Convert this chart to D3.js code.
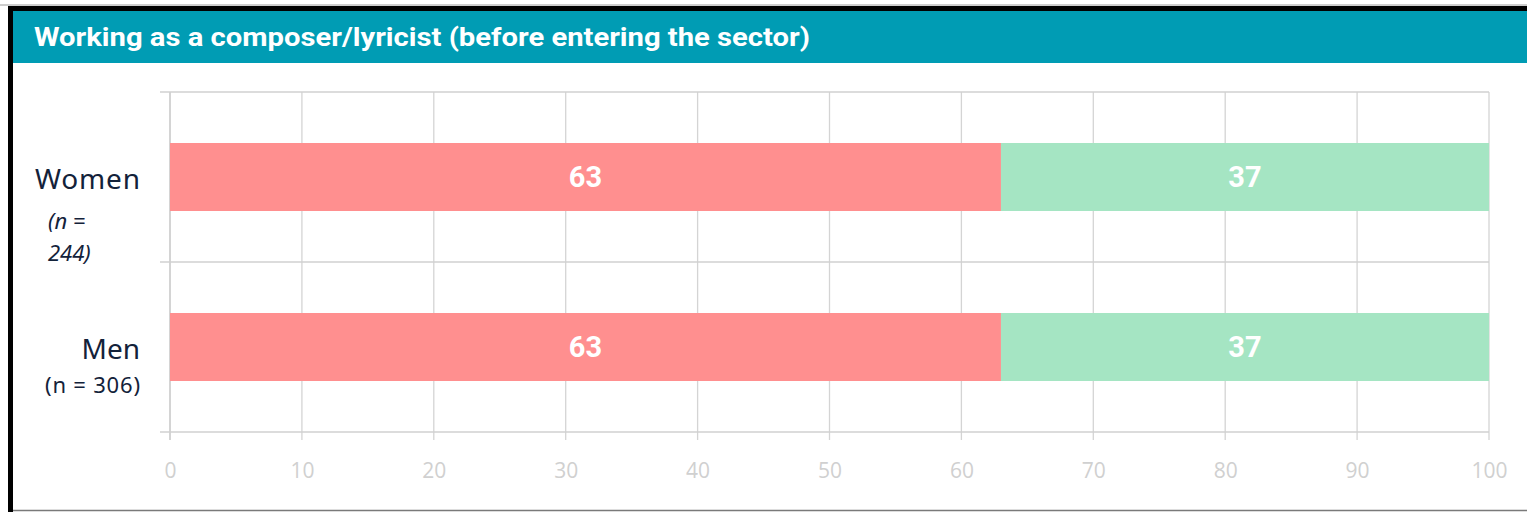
<!DOCTYPE html>
<html><head><meta charset="utf-8">
<script src="https://cdn.jsdelivr.net/npm/d3@7"></script>
<style>html,body{margin:0;padding:0;background:#fff;overflow:hidden}</style>
</head><body>
<svg id="chart" width="1527" height="512"></svg>
<script>
const title = "Working as a composer/lyricist (before entering the sector)";
const categories = ["Women", "Men"];
const seriesNames = ["Yes", "No"];
const yesValues = [63, 63];
const noValues = [37, 37];
const tickValues = [0,10,20,30,40,50,60,70,80,90,100];
const colors = ["#FF8F8F", "#A5E5C3"];

const svg = d3.select("#chart");
const W = 1527, H = 512;

// frame
svg.append("rect").attr("x",0).attr("y",0).attr("width",W).attr("height",H).attr("fill","#fff");
svg.append("line").attr("x1",0).attr("x2",W).attr("y1",5).attr("y2",5).attr("stroke","#9a9a9a").attr("stroke-width",1);
svg.append("rect").attr("x",8).attr("y",6).attr("width",W-8).attr("height",5).attr("fill","#000");
svg.append("rect").attr("x",8).attr("y",6).attr("width",5).attr("height",H-6).attr("fill","#000");
svg.append("line").attr("x1",13).attr("x2",W).attr("y1",510.5).attr("y2",510.5).attr("stroke","#7a7a7a").attr("stroke-width",1.5);
svg.append("rect").attr("x",13).attr("y",11).attr("width",W-13).attr("height",52).attr("fill","#009CB4");
svg.append("text").attr("x",34).attr("y",46).attr("fill","#fff")
  .attr("font-family","Roboto, sans-serif").attr("font-weight","bold").attr("font-size",25)
  .attr("textLength",776).attr("lengthAdjust","spacingAndGlyphs")
  .text(title);

const x = d3.scaleLinear().domain([0,100]).range([170,1489]);
const y = d3.scaleBand().domain(categories).range([92,432]).paddingInner(0.6).paddingOuter(0.3);
const yb = d3.scaleBand().domain(categories).range([92,432]);

// vertical grid
const grid = svg.append("g");
grid.selectAll("line.v").data(tickValues).join("line")
  .attr("x1",d=>x(d)).attr("x2",d=>x(d)).attr("y1",92).attr("y2",440)
  .attr("stroke","#d4d4d4").attr("stroke-width",d=>d===0?2:1.3);
// horizontal lines at band edges
const edges = [92].concat(categories.map(c=>yb(c)+yb.bandwidth()));
grid.selectAll("line.h").data(edges).join("line")
  .attr("x1",160).attr("x2",1489).attr("y1",d=>d).attr("y2",d=>d)
  .attr("stroke","#d0d0d0").attr("stroke-width",1.3);

// x axis labels
const xAxis = d3.axisBottom(x).tickValues(tickValues).tickSize(0).tickPadding(0);
const ax = svg.append("g").attr("transform","translate(0,478)").call(xAxis);
ax.select(".domain").remove();
ax.selectAll("text").attr("fill","#d0d0d0").attr("font-size",21).attr("font-family","'Open Sans', sans-serif").attr("dy",0);

// bars
const data = categories.map((c,i)=>({cat:c, vals:[yesValues[i], noValues[i]]}));
data.forEach(d=>{
  let acc = 0;
  d.vals.forEach((v,j)=>{
    svg.append("rect").attr("x",x(acc)).attr("y",y(d.cat)).attr("width",x(acc+v)-x(acc)).attr("height",y.bandwidth())
      .attr("fill",colors[j]);
    svg.append("text").attr("x",(x(acc)+x(acc+v))/2).attr("y",y(d.cat)+y.bandwidth()/2+10)
      .attr("text-anchor","middle").attr("fill","#fff").attr("font-family","Roboto, sans-serif")
      .attr("font-weight","bold").attr("font-size",29).text(v);
    acc += v;
  });
});

// category labels
const lab = svg.append("g").attr("font-family","'Noto Sans', sans-serif").attr("fill","#13223a");
lab.append("text").attr("x",140).attr("y",189).attr("text-anchor","end").attr("font-size",28).attr("textLength",105).text(categories[0]);
lab.append("text").attr("x",48).attr("y",229).attr("font-size",22).attr("font-style","italic").text("(n =");
lab.append("text").attr("x",48).attr("y",261).attr("font-size",22).attr("font-style","italic").text("244)");
lab.append("text").attr("x",140).attr("y",359).attr("text-anchor","end").attr("font-size",28).text(categories[1]);
lab.append("text").attr("x",140).attr("y",393).attr("text-anchor","end").attr("font-size",22).attr("textLength",95).text("(n = 306)");
</script>
</body></html>
